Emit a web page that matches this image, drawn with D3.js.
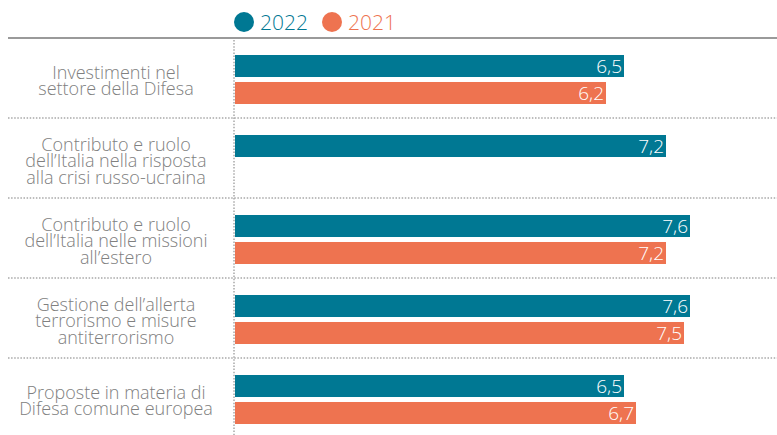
<!DOCTYPE html>
<html>
<head>
<meta charset="utf-8">
<script src="https://cdn.jsdelivr.net/npm/d3@7"></script>
<style>
  body { margin: 0; background: #fff; }
  svg { display: block; font-family: 'Open Sans', sans-serif; }
</style>
</head>
<body>
<div id="chart"></div>
<script>
  // categories, with the line breaks used in the labels
  const categories = [
    'Investimenti nel settore della Difesa',
    'Contributo e ruolo dell\u2019Italia nella risposta alla crisi russo-ucraina',
    'Contributo e ruolo dell\u2019Italia nelle missioni all\u2019estero',
    'Gestione dell\u2019allerta terrorismo e misure antiterrorismo',
    'Proposte in materia di Difesa comune europea'
  ]
  const labelLines = [
    ['Investimenti nel', 'settore della Difesa'],
    ['Contributo e ruolo', 'dell\u2019Italia nella risposta', 'alla crisi russo-ucraina'],
    ['Contributo e ruolo', 'dell\u2019Italia nelle missioni', 'all\u2019estero'],
    ['Gestione dell\u2019allerta', 'terrorismo e misure', 'antiterrorismo'],
    ['Proposte in materia di', 'Difesa comune europea']
  ]
  const years = ['2022', '2021']
  const values2022 = [6.5, 7.2, 7.6, 7.6, 6.5]
  const values2021 = [6.2, null, 7.2, 7.5, 6.7]

  const width = 777
  const height = 435
  const colors = { '2022': '#007893', '2021': '#ee7350' }

  const svg = d3.select('#chart')
    .append('svg')
    .attr('width', width)
    .attr('height', height)

  const x = d3.scaleLinear().domain([0, 9]).range([234, 774])
  const y = d3.scaleBand().domain(categories).range([38, 438])
  const ySub = d3.scaleBand().domain(years).range([17, 66]).paddingInner(0.185)

  const fmt = d3.formatLocale({ decimal: ',', thousands: '.', grouping: [3], currency: ['', '€'] }).format('.1f')

  // legend
  const legend = svg.append('g')
  const legendX = { '2022': 244, '2021': 332 }
  years.forEach(function (yr) {
    legend.append('circle')
      .attr('cx', legendX[yr])
      .attr('cy', 22)
      .attr('r', 10)
      .attr('fill', colors[yr])
    legend.append('text')
      .attr('x', legendX[yr] + 16)
      .attr('y', 30)
      .attr('fill', colors[yr])
      .attr('font-size', 21)
      .attr('font-weight', 300)
      .text(yr)
  })

  // top rule
  svg.append('line')
    .attr('x1', 8).attr('x2', width)
    .attr('y1', 38).attr('y2', 38)
    .attr('stroke', '#9a9a9a')
    .attr('stroke-width', 2)

  // row separators
  svg.selectAll('line.sep')
    .data(categories.slice(1))
    .enter()
    .append('line')
    .attr('class', 'sep')
    .attr('x1', 8).attr('x2', width)
    .attr('y1', function (d) { return y(d) })
    .attr('y2', function (d) { return y(d) })
    .attr('stroke', '#a8a8a8')
    .attr('stroke-width', 1.5)
    .attr('stroke-dasharray', '1.5,1.6')

  // zero line
  svg.append('line')
    .attr('x1', x(0)).attr('x2', x(0))
    .attr('y1', 40).attr('y2', height)
    .attr('stroke', '#a8a8a8')
    .attr('stroke-width', 1.5)
    .attr('stroke-dasharray', '1.5,1.6')

  // bars
  const rows = []
  categories.forEach(function (c, i) {
    rows.push({ cat: c, year: '2022', value: values2022[i] })
    if (values2021[i] !== null) rows.push({ cat: c, year: '2021', value: values2021[i] })
  })

  const bars = svg.selectAll('g.bar')
    .data(rows)
    .enter()
    .append('g')
    .attr('class', 'bar')
    .attr('transform', function (d) { return 'translate(0,' + (y(d.cat) + ySub(d.year)) + ')' })

  bars.append('rect')
    .attr('x', x(0) + 1)
    .attr('y', 0)
    .attr('width', function (d) { return x(d.value) - x(0) - 1 })
    .attr('height', ySub.bandwidth())
    .attr('fill', function (d) { return colors[d.year] })

  bars.append('text')
    .attr('x', function (d) { return x(d.value) - 2 })
    .attr('y', ySub.bandwidth() - 4)
    .attr('text-anchor', 'end')
    .attr('fill', '#fff')
    .attr('font-size', 19)
    .attr('font-weight', 300)
    .text(function (d) { return fmt(d.value) })

  // category labels
  const lineH = 16.5
  const labels = svg.selectAll('text.cat')
    .data(categories)
    .enter()
    .append('text')
    .attr('class', 'cat')
    .attr('text-anchor', 'middle')
    .attr('fill', '#808080')
    .attr('font-size', 18)
    .attr('font-weight', 300)

  labels.each(function (d, i) {
    const lines = labelLines[i]
    const mid = y(d) + y.bandwidth() / 2 + 9
    const first = mid - (lines.length - 1) * lineH / 2
    d3.select(this).selectAll('tspan')
      .data(lines)
      .enter()
      .append('tspan')
      .attr('x', 116)
      .attr('y', function (l, j) { return first + j * lineH })
      .text(function (l) { return l })
  })
</script>
</body>
</html>
